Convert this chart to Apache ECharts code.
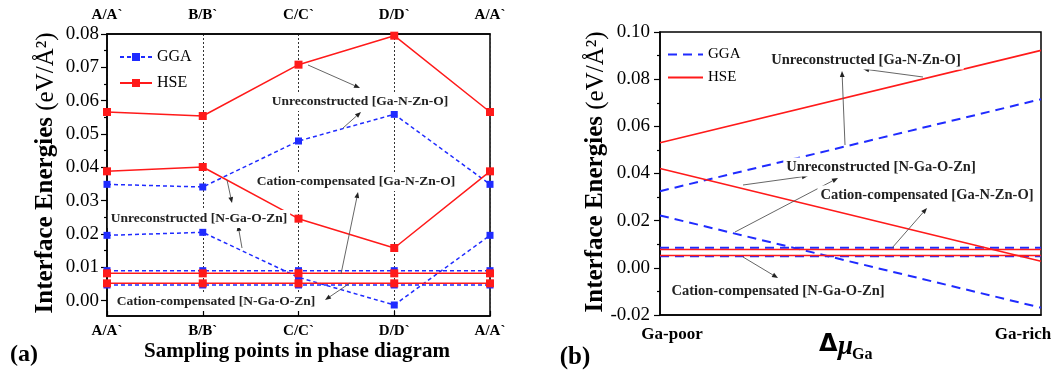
<!DOCTYPE html>
<html><head><meta charset="utf-8">
<script src="https://cdn.jsdelivr.net/npm/echarts@6/dist/echarts.min.js"></script>
<style>html,body{margin:0;padding:0;background:#fff}#c{width:1056px;height:373px}</style>
</head><body><div id="c"></div>
<script>
// ---------- data: panel (a) ----------
const samplingLabels = ['A/A`', 'B/B`', 'C/C`', 'D/D`', 'A/A`'];
const ggaUnrecGaNZnO = [0.0349, 0.0341, 0.0479, 0.0559, 0.0349];
const hseUnrecGaNZnO = [0.0566, 0.0554, 0.0708, 0.0795, 0.0566];
const ggaUnrecNGaOZn = [0.0196, 0.0205, 0.0070, -0.0013, 0.0196];
const hseUnrecNGaOZn = [0.0388, 0.0401, 0.0246, 0.0158, 0.0388];
const ggaCatGaNZnO = [0.0090, 0.0090, 0.0090, 0.0090, 0.0090];
const hseCatGaNZnO = [0.0082, 0.0082, 0.0082, 0.0082, 0.0082];
const ggaCatNGaOZn = [0.0047, 0.0047, 0.0047, 0.0047, 0.0047];
const hseCatNGaOZn = [0.0052, 0.0052, 0.0052, 0.0052, 0.0052];
const leftMajorTicks = [0, 0.01, 0.02, 0.03, 0.04, 0.05, 0.06, 0.07, 0.08];
const leftMinorTicks = [0.005, 0.015, 0.025, 0.035, 0.045, 0.055, 0.065, 0.075];

// ---------- data: panel (b) ----------
const muPositions = [0, 1];
const muEndLabels = ['Ga-poor', 'Ga-rich'];
const ggaMuUnrecGaNZnO = [0.0325, 0.0715];
const hseMuUnrecGaNZnO = [0.0530, 0.0922];
const ggaMuUnrecNGaOZn = [0.0222, -0.0169];
const hseMuUnrecNGaOZn = [0.0421, 0.0028];
const ggaMuCatGaNZnO = [0.0085, 0.0085];
const hseMuCatGaNZnO = [0.0078, 0.0078];
const ggaMuCatNGaOZn = [0.0049, 0.0049];
const hseMuCatNGaOZn = [0.0052, 0.0052];

const FONT = 'Liberation Serif';
const BLUE = '#1f2bff', RED = '#ff1a1a';

function leftSeries(vals, gga) {
  return {
    type: 'line', name: gga ? 'GGA' : 'HSE', xAxisIndex: 0, yAxisIndex: 0,
    data: vals.map((v, i) => [i, v]),
    symbol: 'rect', symbolSize: gga ? 7 : 8,
    itemStyle: { color: gga ? BLUE : RED },
    lineStyle: { color: gga ? BLUE : RED, width: 1.5, type: gga ? [4, 3] : 'solid' },
    z: gga ? 3 : 4, silent: true
  };
}
function rightSeries(vals, gga) {
  return {
    type: 'line', name: gga ? 'GGA_b' : 'HSE_b', xAxisIndex: 2, yAxisIndex: 2,
    data: vals.map((v, i) => [muPositions[i], v]),
    symbol: 'none',
    itemStyle: { color: gga ? BLUE : RED },
    lineStyle: { color: gga ? BLUE : RED, width: gga ? 2 : 1.6, type: gga ? [9, 6] : 'solid' },
    z: gga ? 3 : 4, silent: true
  };
}

function arrow(x1, y1, x2, y2) {
  const a = Math.atan2(y2 - y1, x2 - x1);
  const L = 6, W = 2.4;
  const bx = x2 - L * Math.cos(a), by = y2 - L * Math.sin(a);
  const px = -Math.sin(a) * W, py = Math.cos(a) * W;
  return [
    { type: 'line', silent: true, z: 50, shape: { x1: x1, y1: y1, x2: bx, y2: by }, style: { stroke: '#555', lineWidth: 0.9 } },
    { type: 'polygon', silent: true, z: 50, shape: { points: [[x2, y2], [bx + px, by + py], [bx - px, by - py]] }, style: { fill: '#222' } }
  ];
}
function label(text, x, y, size) {
  return { type: 'text', silent: true, z: 60, x: x, y: y,
    style: { text: text, fontFamily: FONT, fontWeight: 'bold', fontSize: size, fill: '#222',
      align: 'center', verticalAlign: 'middle', backgroundColor: '#fff', padding: [2, 3] } };
}
function txt(text, x, y, size, weight, align, style) {
  return { type: 'text', silent: true, z: 60, x: x, y: y,
    style: Object.assign({ text: text, fontFamily: FONT, fontWeight: weight || 'bold', fontSize: size, fill: '#000',
      align: align || 'center', verticalAlign: 'middle' }, style || {}) };
}

const graphics = [].concat(
  // panel (a) annotations
  arrow(308, 65, 360, 88), arrow(343, 128, 361, 112),
  arrow(227, 180, 232, 203), arrow(242, 248, 238, 225),
  arrow(341, 274, 358, 192), arrow(350, 283, 325, 300),
  [label('Unreconstructed [Ga-N-Zn-O]', 360, 102, 13.5),
   label('Cation-compensated [Ga-N-Zn-O]', 356, 182, 13.5),
   label('Unreconstructed [N-Ga-O-Zn]', 199, 219, 13.5),
   label('Cation-compensated [N-Ga-O-Zn]', 216, 302, 13.5)],
  // panel (b) annotations
  arrow(923, 77, 863, 69), arrow(845, 145, 842, 71),
  arrow(743, 185, 808, 176), arrow(735, 232, 838, 178),
  arrow(892, 248, 927, 208), arrow(743, 257, 778, 278),
  [label('Unreconstructed [Ga-N-Zn-O]', 866, 60, 14.5),
   label('Unreconstructed [N-Ga-O-Zn]', 881, 167, 14.5),
   label('Cation-compensated [Ga-N-Zn-O]', 927, 195, 14.5),
   label('Cation-compensated [N-Ga-O-Zn]', 778, 291, 14.5)],
  // titles
  [
    { type: 'text', silent: true, x: 46, y: 173, rotation: Math.PI / 2,
      style: { text: '{b|Interface Energies }{r|(eV/Å²)}', align: 'center', verticalAlign: 'middle',
        rich: { b: { fontFamily: FONT, fontWeight: 'bold', fontSize: 25, fill: '#000' },
                r: { fontFamily: FONT, fontWeight: 'normal', fontSize: 25, fill: '#000' } } } },
    { type: 'text', silent: true, x: 596, y: 172, rotation: Math.PI / 2,
      style: { text: '{b|Interface Energies }{r|(eV/Å²)}', align: 'center', verticalAlign: 'middle',
        rich: { b: { fontFamily: FONT, fontWeight: 'bold', fontSize: 25, fill: '#000' },
                r: { fontFamily: FONT, fontWeight: 'normal', fontSize: 25, fill: '#000' } } } },
    txt('Sampling points in phase diagram', 297, 352, 21),
    txt('(a)', 24, 355, 24),
    txt('(b)', 575, 358, 25),
    txt(muEndLabels[0], 672, 335, 17),
    txt(muEndLabels[1], 1023, 335, 17),
    txt('Δ', 819, 345, 24, 'bold', 'left', { fontFamily: 'DejaVu Sans' }),
    txt('μ', 838, 347, 27, 'bold', 'left', { fontStyle: 'italic' }),
    txt('Ga', 852, 355, 16, 'bold', 'left')
  ]
);

const axisLineStyle = { show: true, onZero: false, lineStyle: { color: '#000', width: 1.5 } };

const option = {
  animation: false,
  backgroundColor: '#fff',
  grid: [
    { left: 107, right: 566, top: 34, bottom: 57, show: true, borderColor: '#000', borderWidth: 1.5, containLabel: false },
    { left: 660, right: 15, top: 32, bottom: 58, show: true, borderColor: '#000', borderWidth: 1.5, containLabel: false }
  ],
  legend: [
    { data: ['GGA', 'HSE'], orient: 'vertical', left: 114, top: 44, itemWidth: 32, itemHeight: 10, itemGap: 10,
      textStyle: { fontFamily: FONT, fontSize: 16, color: '#000' }, selectedMode: false },
    { data: ['GGA_b', 'HSE_b'], orient: 'vertical', left: 662, top: 42, itemWidth: 35, itemHeight: 10, itemGap: 8,
      formatter: n => n.replace('_b', ''), itemStyle: { opacity: 0 },
      textStyle: { fontFamily: FONT, fontSize: 15, color: '#000' }, selectedMode: false }
  ],
  xAxis: [
    { gridIndex: 0, type: 'value', min: 0, max: 4, interval: 1, position: 'bottom',
      axisLine: axisLineStyle,
      axisTick: { show: true, inside: true, length: 5, lineStyle: { color: '#000', width: 1.2 } },
      axisLabel: { formatter: v => samplingLabels[v], fontFamily: FONT, fontWeight: 'bold', fontSize: 15, color: '#000', margin: 8 },
      splitLine: { show: true, lineStyle: { color: '#333', width: 1, type: [2, 2] } } },
    { gridIndex: 0, type: 'value', min: 0, max: 4, interval: 1, position: 'top',
      axisLine: axisLineStyle, axisTick: { show: false },
      axisLabel: { formatter: v => samplingLabels[v], fontFamily: FONT, fontWeight: 'bold', fontSize: 15, color: '#000', margin: 11 },
      splitLine: { show: false } },
    { gridIndex: 1, type: 'value', min: 0, max: 1, position: 'bottom',
      axisLine: axisLineStyle, axisTick: { show: false }, axisLabel: { show: false }, splitLine: { show: false } }
  ],
  yAxis: [
    { gridIndex: 0, type: 'value', min: -0.0046, max: 0.08, position: 'left',
      axisLine: axisLineStyle,
      axisTick: { show: true, length: 6, customValues: leftMajorTicks, lineStyle: { color: '#000', width: 1.2 } },
      axisLabel: { customValues: leftMajorTicks, formatter: v => v.toFixed(2), fontFamily: FONT, fontSize: 19, color: '#000', margin: 8 },
      splitLine: { show: false } },
    { gridIndex: 0, type: 'value', min: -0.0046, max: 0.08, position: 'left', offset: 0,
      axisLine: { show: false },
      axisTick: { show: true, length: 3, customValues: leftMinorTicks, lineStyle: { color: '#000', width: 1.2 } },
      axisLabel: { show: false }, splitLine: { show: false } },
    { gridIndex: 1, type: 'value', min: -0.02, max: 0.10, interval: 0.02, position: 'left',
      axisLine: axisLineStyle,
      axisTick: { show: true, length: 6, lineStyle: { color: '#000', width: 1.2 } },
      minorTick: { show: true, splitNumber: 2, length: 3, lineStyle: { color: '#000', width: 1.2 } },
      axisLabel: { formatter: v => v.toFixed(2), fontFamily: FONT, fontSize: 19, color: '#000', margin: 10 },
      splitLine: { show: false } }
  ],
  series: [
    leftSeries(ggaUnrecGaNZnO, true), leftSeries(ggaUnrecNGaOZn, true),
    leftSeries(ggaCatGaNZnO, true), leftSeries(ggaCatNGaOZn, true),
    leftSeries(hseUnrecGaNZnO, false), leftSeries(hseUnrecNGaOZn, false),
    leftSeries(hseCatGaNZnO, false), leftSeries(hseCatNGaOZn, false),
    rightSeries(ggaMuUnrecGaNZnO, true), rightSeries(ggaMuUnrecNGaOZn, true),
    rightSeries(ggaMuCatGaNZnO, true), rightSeries(ggaMuCatNGaOZn, true),
    rightSeries(hseMuUnrecGaNZnO, false), rightSeries(hseMuUnrecNGaOZn, false),
    rightSeries(hseMuCatGaNZnO, false), rightSeries(hseMuCatNGaOZn, false)
  ],
  graphic: graphics
};

const chart = echarts.init(document.getElementById('c'));
chart.setOption(option);
</script>
</body></html>
